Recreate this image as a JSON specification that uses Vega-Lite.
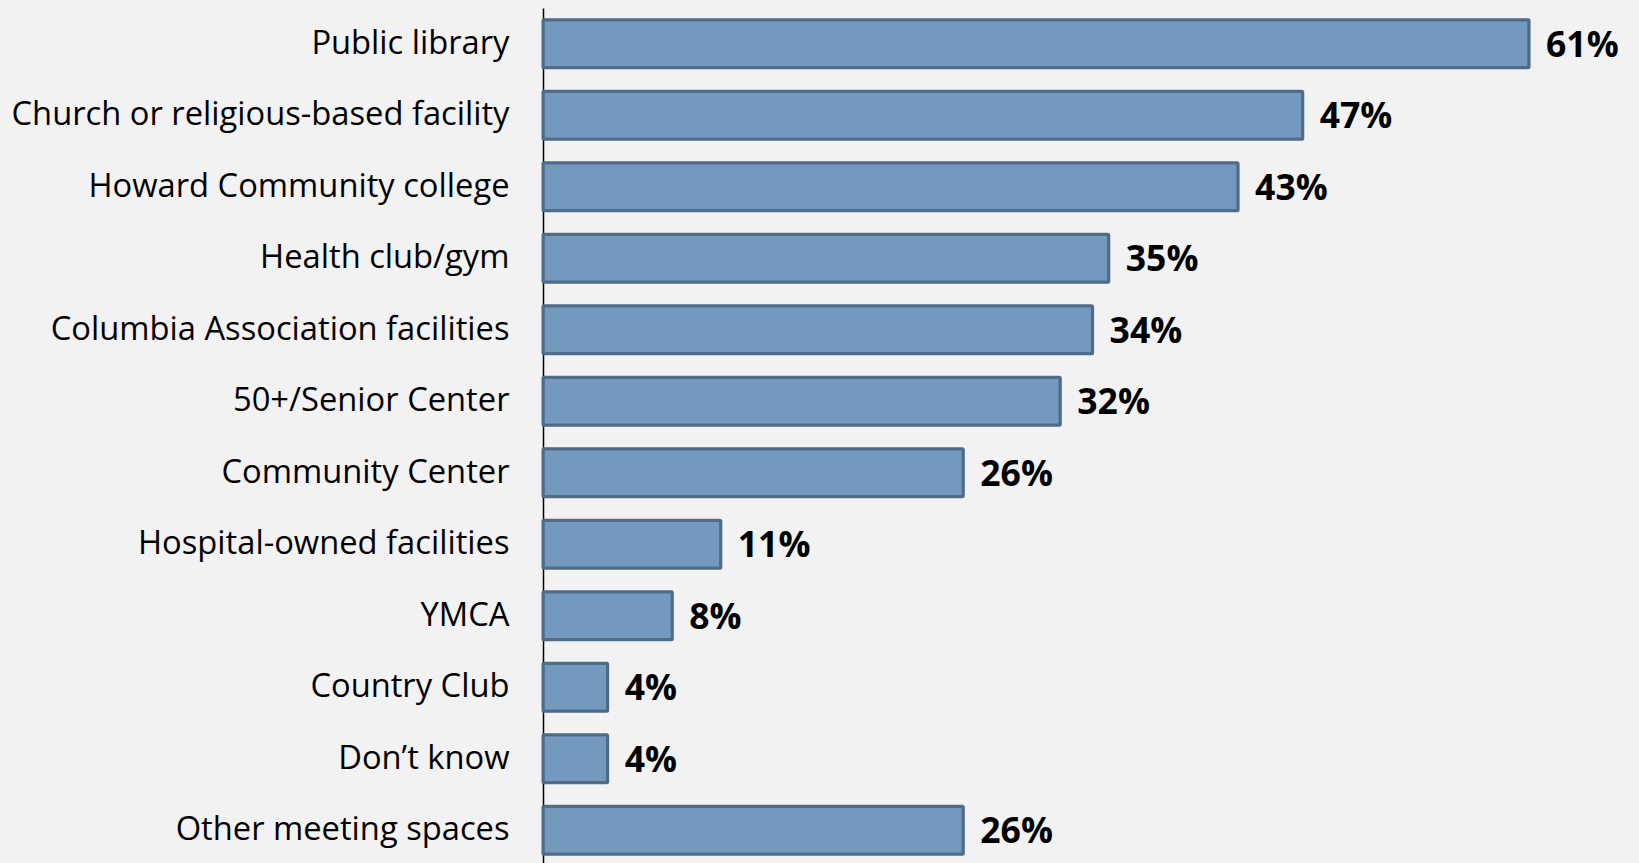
{
  "$schema": "https://vega.github.io/schema/vega-lite/v6.json",
  "autosize": {"type": "none"},
  "padding": {"left": 543, "top": 8, "right": 0, "bottom": 0},
  "width": 1096,
  "height": 858,
  "background": "#F2F2F2",
  "config": {"view": {"stroke": null}},
  "data": {"values": [
    {"place": "Public library", "share": 0.61},
    {"place": "Church or religious-based facility", "share": 0.47},
    {"place": "Howard Community college", "share": 0.43},
    {"place": "Health club/gym", "share": 0.35},
    {"place": "Columbia Association facilities", "share": 0.34},
    {"place": "50+/Senior Center", "share": 0.32},
    {"place": "Community Center", "share": 0.26},
    {"place": "Hospital-owned facilities", "share": 0.11},
    {"place": "YMCA", "share": 0.08},
    {"place": "Country Club", "share": 0.04},
    {"place": "Don’t know", "share": 0.04},
    {"place": "Other meeting spaces", "share": 0.26}
  ]},
  "encoding": {
    "y": {"field": "place", "type": "nominal", "sort": null,
      "scale": {"paddingInner": 0.33, "paddingOuter": 0.165},
      "axis": {"title": null, "ticks": false, "domain": true, "domainColor": "#000000", "domainWidth": 1.5,
        "labelFont": "Open Sans", "labelFontSize": 32.7, "labelColor": "#000000", "labelPadding": 34, "labelLimit": 600}},
    "x": {"field": "share", "type": "quantitative", "scale": {"domain": [0, 0.678], "nice": false}, "axis": null}
  },
  "layer": [
    {"mark": {"type": "bar", "color": "#7399BF", "stroke": "#4F6B88", "strokeWidth": 3, "cornerRadius": 1}},
    {"mark": {"type": "text", "align": "left", "baseline": "middle", "dx": 17, "dy": 2, "font": "Open Sans", "fontWeight": "bold", "fontSize": 35.5, "color": "#000000"},
     "encoding": {"text": {"field": "share", "type": "quantitative", "format": ".0%"}}}
  ]
}
